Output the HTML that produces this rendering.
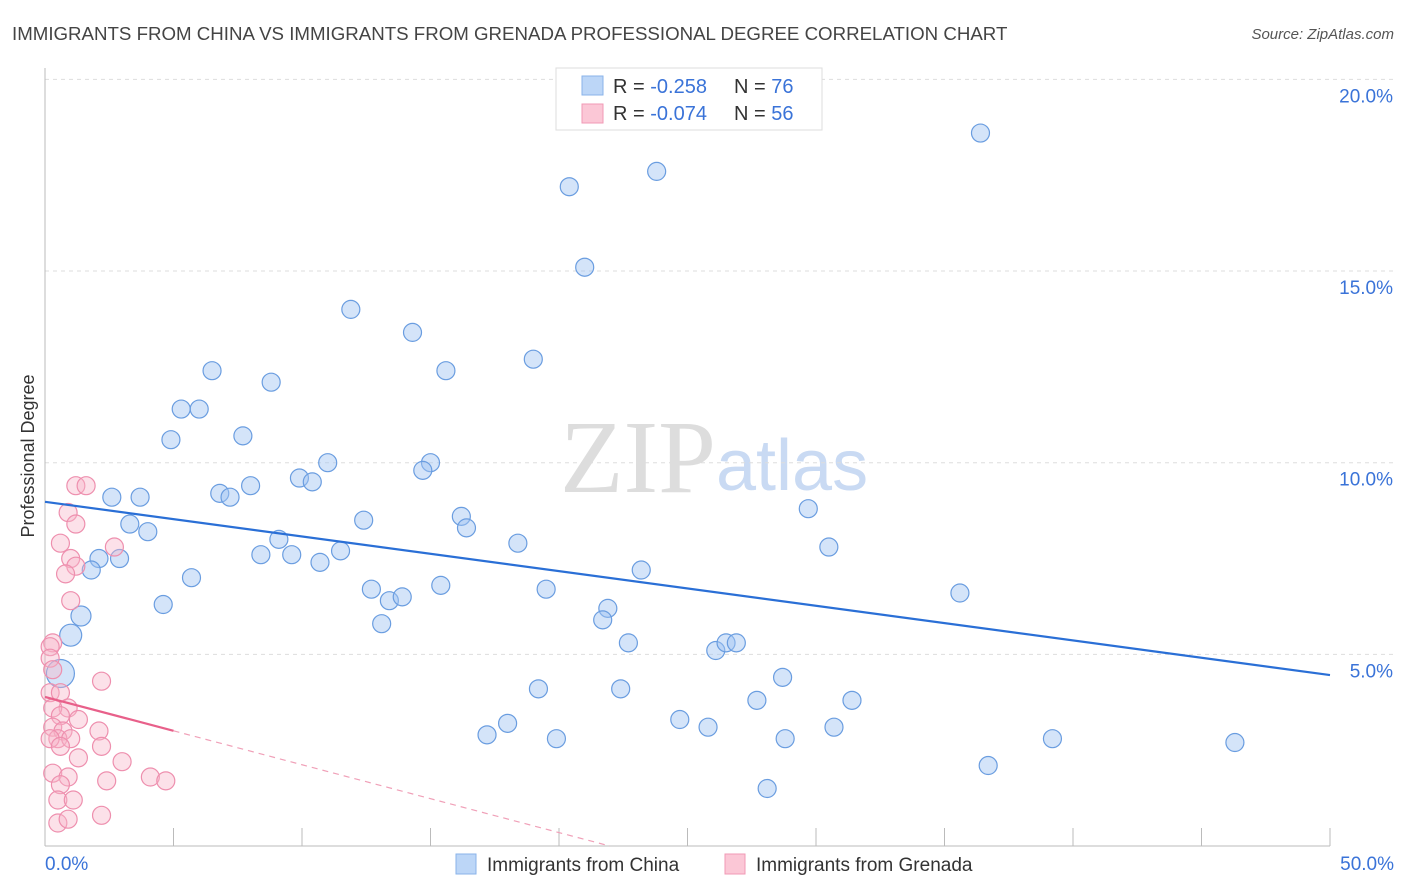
<!DOCTYPE html>
<html><head><meta charset="utf-8"><style>
body{margin:0;background:#fff;font-family:"Liberation Sans",sans-serif;}
svg{display:block}
</style></head><body>
<svg id="chart" width="1406" height="892">
<text x="12" y="40" font-size="18.7" fill="#444">IMMIGRANTS FROM CHINA VS IMMIGRANTS FROM GRENADA PROFESSIONAL DEGREE CORRELATION CHART</text>
<text x="1394" y="39" font-size="15" fill="#555" font-style="italic" text-anchor="end">Source: ZipAtlas.com</text>
<text x="716" y="492" font-size="104" fill="#ddd" text-anchor="end" font-family="Liberation Serif">ZIP</text>
<text x="716" y="490" font-size="72" fill="#c9daf3">atlas</text>
<text transform="translate(34,456) rotate(-90)" font-size="18" fill="#333" text-anchor="middle">Professional Degree</text>
<g id="grid"></g><g id="pts"></g><g id="lines"></g>
<g>
<rect x="556" y="68" width="266" height="62" fill="#fff" stroke="#ddd"/>
<rect x="582" y="76" width="21" height="19" fill="#bcd6f7" stroke="#8ab3ea"/>
<rect x="582" y="104" width="21" height="19" fill="#fbc7d6" stroke="#f09ab5"/>
<text x="613" y="93" font-size="20" fill="#333">R = <tspan fill="#3a73d8">-0.258</tspan><tspan x="734">N = </tspan><tspan fill="#3a73d8">76</tspan></text>
<text x="613" y="120" font-size="20" fill="#333">R = <tspan fill="#3a73d8">-0.074</tspan><tspan x="734">N = </tspan><tspan fill="#3a73d8">56</tspan></text>
</g>
<g>
<rect x="456" y="854" width="20" height="20" fill="#bcd6f7" stroke="#8ab3ea"/>
<text x="487" y="871" font-size="19" fill="#333">Immigrants from China</text>
<rect x="725" y="854" width="20" height="20" fill="#fbc7d6" stroke="#f09ab5"/>
<text x="756" y="871" font-size="19" fill="#333">Immigrants from Grenada</text>
</g>
</svg>
<script>
const yTicks=[5,10,15,20];
const xTickLabels=["0.0%","50.0%"];
const chinaX=[36.4,23.8,20.4,21.0,11.9,14.3,19.0,15.6,6.5,8.8,5.3,6.0,4.9,7.7,9.9,10.4,11.0,15.0,14.7,2.6,3.7,6.8,7.2,8.0,16.2,16.4,12.4,3.3,4.0,9.1,18.4,11.5,8.4,9.6,10.7,2.1,1.8,2.9,5.7,4.6,1.4,12.7,15.4,19.5,13.4,13.9,13.1,21.9,21.7,23.2,22.7,1.0,0.6,26.1,26.5,26.9,29.7,30.5,35.6,28.7,19.2,22.4,27.7,31.4,24.7,25.8,18.0,17.2,19.9,28.8,30.7,39.2,46.3,36.7,28.1];
const chinaY=[18.6,17.6,17.2,15.1,14.0,13.4,12.7,12.4,12.4,12.1,11.4,11.4,10.6,10.7,9.6,9.5,10.0,10.0,9.8,9.1,9.1,9.2,9.1,9.4,8.6,8.3,8.5,8.4,8.2,8.0,7.9,7.7,7.6,7.6,7.4,7.5,7.2,7.5,7.0,6.3,6.0,6.7,6.8,6.7,6.4,6.5,5.8,6.2,5.9,7.2,5.3,5.5,4.5,5.1,5.3,5.3,8.8,7.8,6.6,4.4,4.1,4.1,3.8,3.8,3.3,3.1,3.2,2.9,2.8,2.8,3.1,2.8,2.7,2.1,1.5];
const chinaR=[9,9,9,9,9,9,9,9,9,9,9,9,9,9,9,9,9,9,9,9,9,9,9,9,9,9,9,9,9,9,9,9,9,9,9,9,9,9,9,9,10,9,9,9,9,9,9,9,9,9,9,11,14,9,9,9,9,9,9,9,9,9,9,9,9,9,9,9,9,9,9,9,9,9,9];
const grenX=[1.2,1.6,0.9,1.2,0.6,2.7,1.0,1.2,0.8,1.0,0.3,0.2,0.2,0.3,2.2,0.2,0.6,0.9,0.3,1.3,0.6,2.1,0.3,0.7,0.5,1.0,0.2,0.6,2.2,1.3,3.0,0.3,0.9,4.1,4.7,2.4,0.6,0.5,1.1,2.2,0.5,0.9];
const grenY=[9.4,9.4,8.7,8.4,7.9,7.8,7.5,7.3,7.1,6.4,5.3,5.2,4.9,4.6,4.3,4.0,4.0,3.6,3.6,3.3,3.4,3.0,3.1,3.0,2.8,2.8,2.8,2.6,2.6,2.3,2.2,1.9,1.8,1.8,1.7,1.7,1.6,1.2,1.2,0.8,0.6,0.7];
const chinaTrend=[8.98,4.46];
const grenTrend=[3.89,-0.177];
const svg=document.getElementById('chart'),NS="http://www.w3.org/2000/svg";
const X=v=>45+v*25.7, Y=v=>846-v*38.33;
function mk(t,a,p){const e=document.createElementNS(NS,t);for(const k in a)e.setAttribute(k,a[k]);p.appendChild(e);return e;}
const grid=document.getElementById('grid');
yTicks.forEach(t=>{
const l=mk('line',{x1:45,x2:1394,y1:Y(t),y2:Y(t),stroke:'#ddd','stroke-dasharray':'4,4'},grid);


const tx=mk('text',{x:1393,y:Y(t)+23,'font-size':19,fill:'#3a73d8','text-anchor':'end'},grid);tx.textContent=t.toFixed(1)+'%';


});
const ax=mk('line',{x1:45,x2:45,y1:68,y2:846,stroke:'#bbb'},grid);


const bx=mk('line',{x1:45,x2:1330,y1:846,y2:846,stroke:'#bbb'},grid);


for(let i=0;i<=10;i++){const t=mk('line',{x1:X(i*5),x2:X(i*5),y1:828,y2:846,stroke:'#bbb'},grid);

}
[[0,'start',45],[1,'end',1394]].forEach(([i,a,x])=>{const t=mk('text',{x:x,y:870,'font-size':19,fill:'#3a73d8','text-anchor':a},grid);t.textContent=xTickLabels[i];

});
const pts=document.getElementById('pts');
chinaX.forEach((v,i)=>{const c=mk('circle',{cx:X(v),cy:Y(chinaY[i]),r:chinaR[i]||9,fill:'rgba(160,196,242,0.45)',stroke:'#6a9de0','stroke-width':1.2},pts);

});
grenX.forEach((v,i)=>{const c=mk('circle',{cx:X(v),cy:Y(grenY[i]),r:9,fill:'rgba(248,180,200,0.4)',stroke:'#ee8fae','stroke-width':1.2},pts);

});
const lines=document.getElementById('lines');
const bl=mk('line',{x1:X(0),y1:Y(chinaTrend[0]),x2:X(50),y2:Y(chinaTrend[1]),stroke:'#2a6fd6','stroke-width':2.2},lines);


const g=x=>grenTrend[0]+grenTrend[1]*x;
const p1=mk('line',{x1:X(0),y1:Y(g(0)),x2:X(5),y2:Y(g(5)),stroke:'#e8608a','stroke-width':2.2},lines);


const xe=grenTrend[0]/-grenTrend[1];
const p2=mk('line',{x1:X(5),y1:Y(g(5)),x2:X(xe),y2:Y(0),stroke:'#f0a0b8','stroke-width':1.2,'stroke-dasharray':'6,5'},lines);


</script>
</body></html>
